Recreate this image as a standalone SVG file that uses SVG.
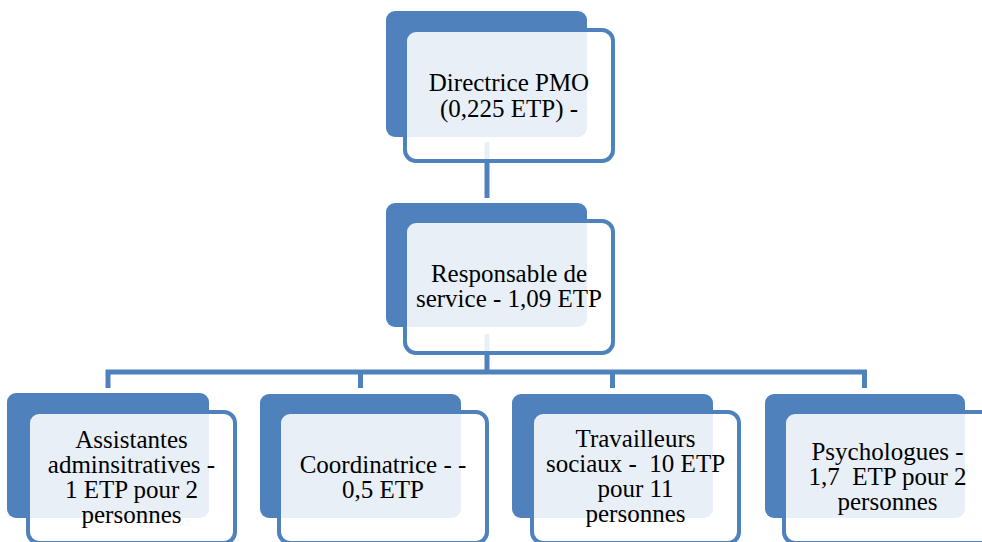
<svg xmlns="http://www.w3.org/2000/svg" width="982" height="542" viewBox="0 0 982 542">
<style>
.back{fill:#4F81BD;}
.front{fill:#FFFFFF;fill-opacity:0.87;stroke:#4F81BD;stroke-width:4;}
.conn{fill:none;stroke:#4F81BD;stroke-width:5;stroke-linejoin:miter;}
.t{font-family:"Liberation Serif","Times New Roman",serif;font-size:25px;fill:#000;text-anchor:middle;white-space:pre;}
</style>
<rect width="982" height="542" fill="#FFFFFF"/>
<g id="connectors">
<path class="conn" d="M487,142 V198"/>
<path class="conn" d="M487,334 V372"/>
<path class="conn" d="M108,388 V372 H864.5 V388"/>
<path class="conn" d="M360.5,372 V388"/>
<path class="conn" d="M612.5,372 V388"/>
</g>
<g id="n-directrice">
<rect class="back" x="386" y="11" width="201" height="126" rx="9"/>
<rect class="front" x="405" y="30" width="208" height="131" rx="11"/>
<text class="t" x="509" y="91">Directrice PMO</text>
<text class="t" x="509" y="117">(0,225 ETP) -</text>
</g>
<g id="n-responsable">
<rect class="back" x="386" y="203" width="201" height="124" rx="9"/>
<rect class="front" x="405" y="221" width="208" height="132" rx="11"/>
<text class="t" x="509" y="282">Responsable de</text>
<text class="t" x="509" y="307">service - 1,09 ETP</text>
</g>
<g id="n-assistantes">
<rect class="back" x="7" y="393" width="202" height="125" rx="9"/>
<rect class="front" x="28" y="412" width="207" height="131" rx="11"/>
<text class="t" x="131.5" y="448">Assistantes</text>
<text class="t" x="131.5" y="473">adminsitratives -</text>
<text class="t" x="131.5" y="498">1 ETP pour 2</text>
<text class="t" x="131.5" y="523">personnes</text>
</g>
<g id="n-coordinatrice">
<rect class="back" x="260" y="394" width="201" height="124" rx="9"/>
<rect class="front" x="279" y="412" width="208" height="131" rx="11"/>
<text class="t" x="383" y="473">Coordinatrice - -</text>
<text class="t" x="383" y="498">0,5 ETP</text>
</g>
<g id="n-travailleurs">
<rect class="back" x="512" y="394" width="201" height="124" rx="9"/>
<rect class="front" x="532" y="412" width="207" height="131" rx="11"/>
<text class="t" x="635.5" y="447">Travailleurs</text>
<text class="t" x="635.5" y="472">sociaux -  10 ETP</text>
<text class="t" x="635.5" y="497">pour 11</text>
<text class="t" x="635.5" y="522">personnes</text>
</g>
<g id="n-psychologues">
<rect class="back" x="765" y="394" width="200" height="124" rx="9"/>
<rect class="front" x="784" y="412" width="208" height="131" rx="11"/>
<text class="t" x="887.5" y="460">Psychologues -</text>
<text class="t" x="887.5" y="485">1,7  ETP pour 2</text>
<text class="t" x="887.5" y="510">personnes</text>
</g>
</svg>
